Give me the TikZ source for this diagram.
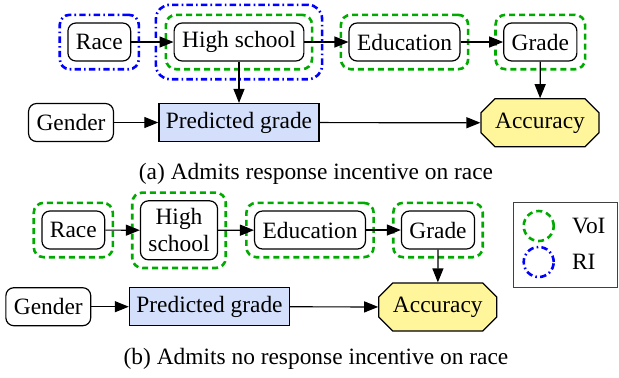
\documentclass[tikz,border=0pt]{standalone}
\usepackage{fontspec}
\setmainfont{Liberation Serif}
\usetikzlibrary{arrows.meta,fit,shapes.misc}
\definecolor{voigreen}{RGB}{0,170,0}
\definecolor{riblue}{RGB}{0,0,255}
\definecolor{predfill}{RGB}{212,223,252}
\definecolor{accfill}{RGB}{255,245,155}
\newcommand\figfont{\rmfamily\fontsize{11.7}{13.5}\selectfont}
\tikzset{
  var/.style={draw, line width=0.6pt, rounded corners=4pt, minimum height=19pt, inner xsep=4pt, inner ysep=2pt, font=\figfont},
  predbox/.style={draw, line width=0.6pt, fill=predfill, minimum height=19pt, inner xsep=3.5pt, inner ysep=2pt, font=\figfont},
  accbox/.style={draw, line width=0.6pt, fill=accfill, chamfered rectangle, chamfered rectangle corners=all, chamfered rectangle xsep=3.5pt, chamfered rectangle ysep=3.5pt, minimum width=59pt, minimum height=24pt, inner sep=0pt, font=\figfont},
  voi/.style={draw=voigreen, line width=1.3pt, dash pattern=on 3pt off 2pt, rounded corners=5pt, inner sep=3.8pt},
  ri/.style={draw=riblue, line width=1.3pt, dash pattern=on 3.2pt off 1.6pt on 0.8pt off 1.6pt, rounded corners=5pt, inner sep=3.8pt},
  arr/.style={line width=0.6pt, -{Triangle[length=7pt,width=5.5pt]}},
  captext/.style={font=\figfont, inner sep=0pt}
}
\begin{document}
\begin{tikzpicture}[x=0.5pt,y=-0.5pt]
\useasboundingbox (0,0) rectangle (619,377);
% (a)
\node[var] (ra) at (99.3,42) {Race};
\node[var] (ha) at (239,42) {High school};
\node[var] (ea) at (404.5,42) {Education};
\node[var] (ga) at (540.3,42) {Grade};
\node[var] (gena) at (71,122.5) {Gender};
\node[predbox] (pa) at (239,122.5) {Predicted grade};
\node[accbox] (aa) at (540,122.8) {Accuracy};
\node[ri, fit=(ra)] (ribra) {};
\node[voi, fit=(ha)] (voiha) {};
\node[ri, fit=(ha), inner sep=8.8pt, rounded corners=7pt] (riha) {};
\node[voi, fit=(ea)] (voiea) {};
\node[voi, fit=(ga)] (voiga) {};
\draw[arr] (ra) -- (ha);
\draw[arr] (ha) -- (ea);
\draw[arr] (ea) -- (ga);
\draw[arr] (ha) -- (pa);
\draw[arr] (ga) -- (aa);
\draw[arr] (gena) -- (pa);
\draw[arr] (pa) -- (aa);
\node[captext] (capa) at (316,174) {(a) Admits response incentive on race};
% (b)
\node[var] (rb) at (73.3,230) {Race};
\node[var, align=center, minimum height=29.5pt] (hb) at (179,230.3) {High\\school};
\node[var] (eb) at (310,230) {Education};
\node[var] (gb) at (438,230) {Grade};
\node[var] (genb) at (48.3,306.7) {Gender};
\node[predbox] (pb) at (209.5,306.7) {Predicted grade};
\node[accbox] (ab) at (437.8,307) {Accuracy};
\node[voi, fit=(rb)] (voirb) {};
\node[voi, fit=(hb)] (voihb) {};
\node[voi, fit=(eb)] (voieb) {};
\node[voi, fit=(gb)] (voigb) {};
\draw[arr] (rb) -- (hb);
\draw[arr] (hb) -- (eb);
\draw[arr] (eb) -- (gb);
\draw[arr] (gb) -- (ab);
\draw[arr] (genb) -- (pb);
\draw[arr] (pb) -- (ab);
\node[captext] (capb) at (316,359) {(b) Admits no response incentive on race};
% legend
\node[draw=black!75, line width=0.5pt, minimum width=52pt, minimum height=42.5pt, inner sep=0pt] (leg) at (565.8,245.2) {};
\node[draw=voigreen, line width=1.3pt, dash pattern=on 3pt off 2pt, circle, minimum size=15pt, inner sep=0pt] (legvoi) at (538.7,226) {};
\node[draw=riblue, line width=1.3pt, dash pattern=on 3.2pt off 1.6pt on 0.8pt off 1.6pt, circle, minimum size=15pt, inner sep=0pt] (legri) at (538.7,262) {};
\node[captext, anchor=west] (legvoit) at (571.7,226) {VoI};
\node[captext, anchor=west] (legrit) at (571.7,262) {RI};
\end{tikzpicture}
\end{document}
